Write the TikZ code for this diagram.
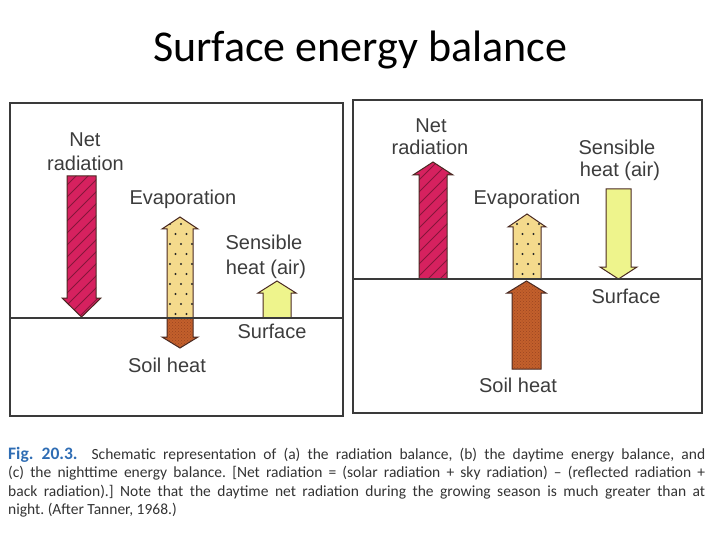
\documentclass[tikz,border=0pt]{standalone}
\usepackage{fontspec}
\setmainfont{Carlito}
\newfontfamily\figfont{Liberation Sans}
\usetikzlibrary{patterns}
\definecolor{netred}{HTML}{D6215F}
\definecolor{hatchred}{HTML}{85163B}
\definecolor{evapbuff}{HTML}{F4DA8C}
\definecolor{soilbrown}{HTML}{C3602C}
\definecolor{soildark}{HTML}{9A4520}
\definecolor{senslime}{HTML}{EEF48C}
\definecolor{arrowline}{HTML}{4A2A22}
\definecolor{framegray}{HTML}{3A3A3A}
\definecolor{labelgray}{HTML}{3C3C3C}
\definecolor{figblue}{HTML}{2F6DB4}
% outline of a flux arrow: shaft x1 x2, shaft end, head base, wings w1 w2, tip
\newcommand{\fluxpath}[8]{(#1,#3) -- (#1,#4) -- (#5,#4) -- (#7,#8) -- (#6,#4) -- (#2,#4) -- (#2,#3) -- cycle}

\begin{document}
\begin{tikzpicture}[x=1pt, y=-1pt,
    panel/.style={draw=framegray, line width=1.6pt},
    ground/.style={draw=framegray, line width=1.2pt},
    flux/.style={draw=arrowline, line width=1pt, line join=miter},
    hatch/.style={draw=hatchred, line width=0.9pt},
    speck/.style={fill=black!85},
    figtext/.style={font=\figfont\fontsize{20}{22}\selectfont, text=labelgray,
                    anchor=base, inner sep=0pt},
    captext/.style={font=\fontsize{15.5}{18.5}\selectfont\frenchspacing, text=black!80,
                    text width=697pt, align=justify, inner sep=0pt, anchor=north west}]
  \useasboundingbox (0,0) rectangle (720,540);
  \node[font=\fontsize{44}{50}\selectfont, anchor=base] (title) at (360,62) {Surface energy balance};

  % (b) daytime
  \draw[panel] (10,103) rectangle (343,416);
  \fill[netred] \fluxpath{67}{96}{176}{298}{62}{101}{81.5}{317};
  \begin{scope}
    \clip \fluxpath{67}{96}{176}{298}{62}{101}{81.5}{317};
    \foreach \k in {0,...,15} \draw[hatch] (60,{180+\k*12}) -- ++(45,-45);
  \end{scope}
  \draw[flux] \fluxpath{67}{96}{176}{298}{62}{101}{81.5}{317};
  \fill[evapbuff] \fluxpath{167}{193}{318}{229}{162}{198}{180}{217};
  \begin{scope}
    \clip \fluxpath{167}{193}{318}{229}{162}{198}{180}{217};
    \foreach \row in {0,...,9} \foreach \col in {0,1,2}
      \fill[speck] ({170+\col*11+mod(\row,2)*5.5},{224+\row*10}) circle (1.1pt);
  \end{scope}
  \draw[flux] \fluxpath{167}{193}{318}{229}{162}{198}{180}{217};
  \fill[soilbrown] \fluxpath{167}{193}{318}{337}{162}{198}{180}{348};
  \fill[pattern=crosshatch dots, pattern color=soildark] \fluxpath{167}{193}{318}{337}{162}{198}{180}{348};
  \draw[flux] \fluxpath{167}{193}{318}{337}{162}{198}{180}{348};
  \filldraw[flux, fill=senslime] \fluxpath{263}{291}{318}{293}{258}{296}{277}{281};
  \draw[ground] (10,318) -- (343,318);
  \node[figtext] (netLa) at (85,147) {Net};
  \node[figtext] (netLb) at (85.5,171) {radiation};
  \node[figtext] (evapL) at (183,205) {Evaporation};
  \node[figtext] (sensLa) at (264,249) {Sensible};
  \node[figtext] (sensLb) at (266,274) {heat (air)};
  \node[figtext] (surfL) at (272,338) {Surface};
  \node[figtext] (soilL) at (167,372) {Soil heat};

  % (c) nighttime
  \draw[panel] (353,100) rectangle (702,413);
  \fill[netred] \fluxpath{419}{447}{279}{175}{413}{453}{433}{162};
  \begin{scope}
    \clip \fluxpath{419}{447}{279}{175}{413}{453}{433}{162};
    \foreach \k in {0,...,14} \draw[hatch] (412,{175+\k*12}) -- ++(45,-45);
  \end{scope}
  \draw[flux] \fluxpath{419}{447}{279}{175}{413}{453}{433}{162};
  \fill[evapbuff] \fluxpath{513}{541}{279}{227}{508}{546}{527}{214};
  \begin{scope}
    \clip \fluxpath{513}{541}{279}{227}{508}{546}{527}{214};
    \foreach \row in {0,...,5} \foreach \col in {0,1,2}
      \fill[speck] ({517+\col*11+mod(\row,2)*5.5},{224+\row*10}) circle (1.1pt);
  \end{scope}
  \draw[flux] \fluxpath{513}{541}{279}{227}{508}{546}{527}{214};
  \fill[soilbrown] \fluxpath{512}{541}{369}{293}{507}{546}{526.5}{281};
  \fill[pattern=crosshatch dots, pattern color=soildark] \fluxpath{512}{541}{369}{293}{507}{546}{526.5}{281};
  \draw[flux] \fluxpath{512}{541}{369}{293}{507}{546}{526.5}{281};
  \filldraw[flux, fill=senslime] \fluxpath{606}{631}{189}{267}{600}{637}{618.5}{279};
  \draw[ground] (353,279) -- (702,279);
  \node[figtext] (netRa) at (431,133) {Net};
  \node[figtext] (netRb) at (430,155) {radiation};
  \node[figtext] (sensRa) at (617,155) {Sensible};
  \node[figtext] (sensRb) at (620,177) {heat (air)};
  \node[figtext] (evapR) at (527,205) {Evaporation};
  \node[figtext] (surfR) at (626,303) {Surface};
  \node[figtext] (soilR) at (518,392) {Soil heat};

  \node[captext] (caption) at (8,447) {{\fontsize{17.5}{18.5}\selectfont\textcolor{figblue}{\textbf{Fig.~20.3.}}}\hspace{0.9em}%
    Schematic representation of (a) the radiation balance, (b) the daytime energy balance, and\linebreak
    (c) the nighttime energy balance. [Net radiation = (solar radiation + sky radiation) -- (reflected radiation +\linebreak
    back radiation).] Note that the daytime net radiation during the growing season is much greater than at\linebreak
    night. (After Tanner, 1968.)};
\end{tikzpicture}
\end{document}
